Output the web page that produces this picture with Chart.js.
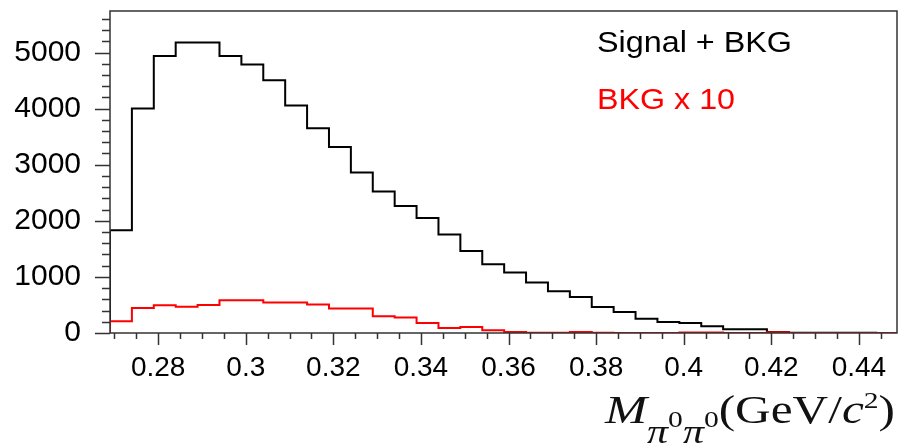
<!DOCTYPE html>
<html>
<head>
<meta charset="utf-8">
<script src="https://cdn.jsdelivr.net/npm/chart.js@4"></script>
<style>
html, body { margin: 0; padding: 0; background: #fff; }
#wrap { width: 900px; height: 445px; }
</style>
</head>
<body>
<div id="wrap"><canvas id="histchart"></canvas></div>
<script>
// bin edges of the M(pi0 pi0) histogram, GeV/c^2
const binEdges = [0.269, 0.274, 0.279, 0.284, 0.289, 0.294, 0.299, 0.304, 0.309, 0.314,
                  0.319, 0.324, 0.329, 0.334, 0.339, 0.344, 0.349, 0.354, 0.359, 0.364,
                  0.369, 0.374, 0.379, 0.384, 0.389, 0.394, 0.399, 0.404, 0.409, 0.414,
                  0.419, 0.424, 0.429, 0.434, 0.439, 0.444, 0.449];

// Signal + BKG (black), 35 bins
const signalBkg = [1831, 4000, 4940, 5180, 5180, 4940, 4786, 4506, 4055, 3650,
                   3317, 2860, 2521, 2265, 2051, 1755, 1462, 1225, 1077, 899,
                   745, 642, 464, 375, 256, 196, 178, 122, 65, 65,
                   18, 6, 5, 4, 3];

// BKG x 10 (red), 36 bins
const bkgTimes10 = [209, 446, 494, 470, 499, 583, 583, 542, 542, 506,
                    435, 435, 298, 275, 178, 89, 107, 48, 18, 3,
                    3, 18, 3, 0, 0, 0, 8, 8, 0, 0,
                    12, 0, 0, 0, 0, 0];

const xTickVals = [0.28, 0.30, 0.32, 0.34, 0.36, 0.38, 0.40, 0.42, 0.44];
const xTickLabels = ['0.28', '0.3', '0.32', '0.34', '0.36', '0.38', '0.4', '0.42', '0.44'];
const yTickVals = [0, 1000, 2000, 3000, 4000, 5000];
const yTickLabels = ['0', '1000', '2000', '3000', '4000', '5000'];

const xMin = 0.269, xMax = 0.4487;
const yMin = 0, yMax = 5740;

// step outline like a ROOT histogram: up from zero, across each bin, back down
function histPoints(vals) {
    let pts = [{x: binEdges[0], y: 0}];
    for (let i = 0; i < vals.length; i++) {
        pts.push({x: binEdges[i], y: vals[i]});
    }
    pts.push({x: binEdges[vals.length], y: vals[vals.length - 1]});
    pts.push({x: binEdges[vals.length], y: 0});
    return pts;
}

const sansFont = "'Liberation Sans', Arial, sans-serif";
const serifFont = "'Liberation Serif', 'Times New Roman', serif";

// draw a row of text pieces squeezed/stretched into [x0, x1]
function fitRow(ctx, parts, x0, x1, base) {
    let total = 0;
    parts.forEach(p => { ctx.font = p.f; p.w = ctx.measureText(p.t).width; total += p.w; });
    const sx = (x1 - x0) / total;
    ctx.save();
    ctx.translate(x0, 0);
    ctx.scale(sx, 1);
    let x = 0;
    parts.forEach(p => {
        ctx.font = p.f;
        ctx.fillStyle = p.c || '#000';
        ctx.fillText(p.t, x, base + (p.dy || 0));
        x += p.w;
    });
    ctx.restore();
}

const rootFrame = {
    id: 'rootFrame',
    afterDatasetsDraw(chart) {
        const ctx = chart.ctx;
        const a = chart.chartArea;
        const xs = chart.scales.x, ys = chart.scales.y;
        ctx.save();
        ctx.strokeStyle = '#333';
        ctx.lineWidth = 1.5;
        ctx.strokeRect(a.left, a.top, a.right - a.left, a.bottom - a.top);

        // x ticks every 0.005, long ones on the labelled values
        ctx.beginPath();
        for (let k = 0; k <= 35; k++) {
            const v = Math.round((0.27 + k * 0.005) * 1000) / 1000;
            const px = Math.round(xs.getPixelForValue(v)) + 0.5;
            const major = Math.round(v * 1000) % 20 === 0;
            ctx.moveTo(px, a.bottom);
            ctx.lineTo(px, a.bottom + (major ? 12 : 6));
        }
        // y ticks every 200, pointing left
        for (let k = 0; k <= 28; k++) {
            const v = k * 200;
            const py = Math.round(ys.getPixelForValue(v)) + 0.5;
            const major = v % 1000 === 0;
            ctx.moveTo(a.left, py);
            ctx.lineTo(a.left - (major ? 15 : 8), py);
        }
        ctx.stroke();
        ctx.restore();
    },
    afterDraw(chart) {
        const ctx = chart.ctx;
        ctx.save();
        ctx.textBaseline = 'alphabetic';
        ctx.textAlign = 'left';
        fitRow(ctx, [{t: 'Signal + BKG', f: '30px ' + sansFont}], 597, 792, 52);
        fitRow(ctx, [{t: 'BKG x 10', f: '30px ' + sansFont, c: '#ff0000'}], 597, 735, 108.5);

        // axis title  M_{pi0 pi0}(GeV/c^2)
        fitRow(ctx, [
            {t: 'M', f: 'italic 41px ' + serifFont, c: '#111'},
            {t: '\u03c0', f: 'italic 34px ' + serifFont, dy: 20, c: '#111'},
            {t: '0', f: '24px ' + serifFont, dy: 4, c: '#111'},
            {t: '\u03c0', f: 'italic 34px ' + serifFont, dy: 20, c: '#111'},
            {t: '0', f: '24px ' + serifFont, dy: 4, c: '#111'},
            {t: '(GeV/', f: '40px ' + serifFont, c: '#111'},
            {t: 'c', f: 'italic 40px ' + serifFont, c: '#111'},
            {t: '2', f: '24px ' + serifFont, dy: -15, c: '#111'},
            {t: ')', f: '40px ' + serifFont, c: '#111'}
        ], 605, 895, 423);
        ctx.restore();
    }
};

new Chart(document.getElementById('histchart'), {
    type: 'line',
    data: {
        datasets: [
            {
                label: 'BKG x 10',
                data: histPoints(bkgTimes10),
                borderColor: '#ff0000',
                borderWidth: 2,
                stepped: 'before',
                pointRadius: 0,
                fill: false,
                order: 0
            },
            {
                label: 'Signal + BKG',
                data: histPoints(signalBkg),
                borderColor: '#000000',
                borderWidth: 2,
                stepped: 'before',
                pointRadius: 0,
                fill: false,
                order: 1
            }
        ]
    },
    options: {
        responsive: true,
        maintainAspectRatio: false,
        animation: false,
        layout: { padding: { top: 11, right: 3, left: 0, bottom: 0 } },
        plugins: {
            legend: { display: false },
            tooltip: { enabled: false },
            title: { display: false }
        },
        scales: {
            x: {
                type: 'linear',
                min: xMin,
                max: xMax,
                grid: { display: false, drawTicks: false },
                border: { display: false },
                afterBuildTicks: (scale) => { scale.ticks = xTickVals.map(v => ({value: v})); },
                afterFit: (scale) => {
                    scale.height = 112;
                    scale.paddingLeft = 0; scale.paddingRight = 0;
                },
                ticks: {
                    autoSkip: false,
                    maxRotation: 0,
                    padding: 18,
                    color: '#000',
                    font: { family: sansFont, size: 28 },
                    callback: (v, i) => xTickLabels[i]
                }
            },
            y: {
                min: yMin,
                max: yMax,
                grid: { display: false, drawTicks: false },
                border: { display: false },
                afterBuildTicks: (scale) => { scale.ticks = yTickVals.map(v => ({value: v})); },
                afterFit: (scale) => {
                    scale.width = 110;
                    scale.paddingTop = 0; scale.paddingBottom = 0;
                },
                ticks: {
                    autoSkip: false,
                    padding: 29,
                    color: '#000',
                    font: { family: sansFont, size: 30 },
                    callback: (v, i) => yTickLabels[i]
                }
            }
        }
    },
    plugins: [rootFrame]
});
</script>
</body>
</html>
